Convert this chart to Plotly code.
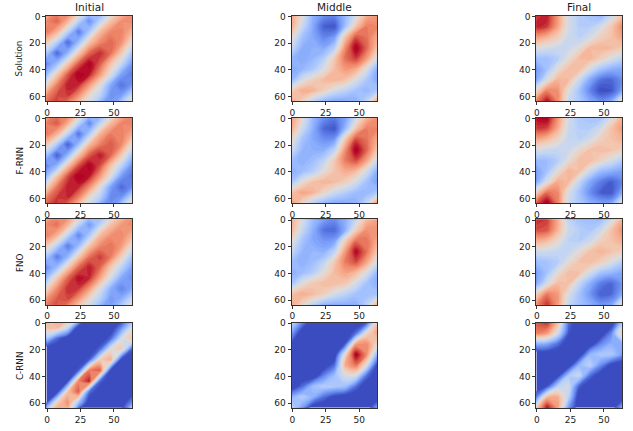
import plotly.graph_objects as go

grid_x = [-0.5, 7.5, 15.5, 23.5, 31.5, 39.5, 47.5, 55.5, 63.5]
grid_y = [-0.5, 7.5, 15.5, 23.5, 31.5, 39.5, 47.5, 55.5, 63.5]
grid_y_initial = [-4.5, 3.5, 11.5, 19.5, 27.5, 35.5, 43.5, 51.5, 59.5, 67.5]
columns = ["Initial", "Middle", "Final"]
rows = ["Solution", "F-RNN", "FNO", "C-RNN"]
x_ticks = [0, 25, 50]
y_ticks = [0, 20, 40, 60]

solution_initial = [
    [62, 74, 80, 62, 42, 26, 44, 62, 72],
    [76, 82, 66, 42, 22, 42, 62, 74, 76],
    [80, 66, 42, 18, 38, 64, 76, 77, 66],
    [60, 40, 14, 34, 62, 76, 82, 74, 52],
    [38, 14, 32, 60, 82, 90, 80, 60, 36],
    [20, 34, 60, 84, 96, 84, 62, 44, 24],
    [34, 60, 84, 97, 92, 72, 50, 26, 18],
    [56, 78, 92, 90, 72, 52, 28, 16, 24],
    [76, 86, 88, 74, 54, 42, 22, 26, 46],
    [84, 88, 72, 56, 44, 26, 26, 46, 68],
]
solution_middle = [
    [70, 52, 30, 22, 20, 32, 48, 68, 72],
    [68, 45, 28, 12, 10, 35, 62, 78, 76],
    [55, 35, 28, 20, 25, 62, 85, 80, 68],
    [45, 30, 30, 28, 40, 75, 97, 82, 62],
    [32, 28, 32, 40, 60, 80, 88, 72, 48],
    [28, 32, 38, 50, 64, 72, 68, 50, 30],
    [32, 48, 58, 64, 66, 62, 50, 38, 28],
    [58, 68, 66, 58, 48, 42, 36, 32, 38],
    [70, 58, 42, 32, 28, 28, 30, 42, 72],
]
solution_final = [
    [88, 92, 72, 48, 40, 36, 32, 46, 62],
    [92, 88, 70, 48, 40, 40, 48, 60, 75],
    [72, 66, 58, 46, 42, 48, 58, 62, 70],
    [52, 48, 46, 46, 52, 64, 66, 64, 60],
    [35, 35, 40, 52, 64, 66, 58, 50, 42],
    [25, 36, 52, 64, 64, 48, 36, 30, 28],
    [28, 50, 66, 64, 46, 28, 16, 14, 22],
    [56, 76, 74, 52, 36, 20, 8, 10, 26],
    [78, 94, 76, 46, 38, 28, 22, 28, 58],
]
frnn_initial = [
    [64, 76, 80, 62, 40, 24, 44, 64, 74],
    [78, 84, 68, 42, 20, 42, 64, 76, 78],
    [80, 66, 42, 16, 38, 66, 78, 78, 68],
    [60, 38, 12, 34, 64, 78, 84, 76, 52],
    [36, 12, 32, 62, 84, 92, 82, 60, 36],
    [20, 32, 62, 86, 96, 86, 62, 42, 22],
    [34, 62, 86, 97, 92, 72, 50, 24, 16],
    [58, 80, 92, 90, 74, 52, 26, 14, 22],
    [78, 88, 90, 76, 54, 40, 20, 24, 46],
    [86, 90, 74, 56, 42, 24, 24, 46, 68],
]
frnn_middle = [
    [72, 54, 32, 22, 18, 26, 46, 66, 74],
    [68, 46, 30, 14, 10, 32, 62, 78, 76],
    [56, 36, 28, 22, 24, 60, 86, 80, 68],
    [46, 32, 30, 30, 42, 74, 97, 82, 60],
    [34, 30, 34, 42, 60, 78, 86, 70, 46],
    [30, 34, 40, 52, 62, 68, 64, 48, 30],
    [36, 52, 62, 66, 64, 58, 48, 36, 26],
    [62, 70, 66, 56, 46, 40, 34, 32, 38],
    [74, 56, 40, 32, 28, 28, 30, 44, 76],
]
frnn_final = [
    [94, 96, 74, 48, 38, 36, 36, 50, 66],
    [88, 86, 68, 46, 40, 40, 48, 62, 72],
    [70, 64, 56, 44, 42, 48, 58, 62, 66],
    [50, 46, 44, 46, 54, 62, 64, 62, 58],
    [34, 34, 40, 52, 64, 64, 56, 48, 40],
    [26, 36, 52, 66, 62, 46, 34, 30, 26],
    [28, 50, 68, 64, 44, 28, 18, 12, 20],
    [60, 80, 76, 50, 36, 22, 12, 10, 28],
    [84, 98, 78, 46, 38, 30, 26, 28, 56],
]
fno_initial = [
    [64, 74, 78, 60, 42, 28, 44, 62, 72],
    [76, 80, 66, 42, 24, 42, 62, 72, 76],
    [78, 66, 42, 20, 38, 64, 74, 76, 66],
    [60, 40, 18, 34, 62, 76, 80, 72, 52],
    [38, 18, 32, 60, 80, 88, 78, 58, 36],
    [22, 34, 60, 82, 92, 82, 60, 42, 26],
    [34, 60, 82, 94, 90, 70, 48, 28, 22],
    [56, 76, 90, 88, 72, 50, 30, 20, 28],
    [74, 84, 86, 72, 54, 40, 24, 30, 46],
    [82, 86, 70, 54, 42, 28, 28, 46, 66],
]
fno_middle = [
    [68, 50, 34, 26, 22, 30, 44, 64, 70],
    [66, 44, 30, 16, 14, 30, 58, 74, 74],
    [54, 36, 28, 24, 26, 58, 80, 80, 68],
    [44, 32, 32, 30, 42, 72, 95, 80, 60],
    [34, 30, 34, 42, 60, 78, 86, 70, 48],
    [30, 34, 40, 52, 64, 70, 64, 50, 32],
    [36, 52, 60, 64, 64, 60, 48, 36, 30],
    [62, 68, 64, 58, 48, 42, 36, 34, 36],
    [70, 56, 42, 32, 30, 30, 30, 42, 70],
]
fno_final = [
    [90, 88, 68, 42, 36, 34, 34, 48, 66],
    [86, 84, 66, 46, 40, 38, 46, 62, 74],
    [68, 64, 54, 42, 40, 46, 58, 62, 68],
    [48, 46, 44, 44, 52, 62, 66, 62, 58],
    [34, 36, 40, 52, 62, 64, 58, 50, 40],
    [26, 36, 52, 64, 62, 48, 36, 32, 28],
    [28, 48, 64, 62, 44, 30, 18, 14, 24],
    [58, 78, 72, 50, 36, 24, 12, 14, 28],
    [76, 90, 72, 44, 36, 30, 24, 28, 58],
]
crnn_initial = [
    [62, 66, 66, 48, 4, 0, 0, 0, 25],
    [62, 64, 44, 0, 0, 0, 0, 22, 50],
    [38, 14, 0, 0, 0, 0, 14, 48, 62],
    [0, 0, 0, 0, 0, 14, 52, 60, 12],
    [0, 0, 0, 0, 12, 58, 68, 4, 0],
    [0, 0, 0, 12, 78, 84, 6, 0, 0],
    [0, 0, 8, 76, 92, 14, 0, 0, 0],
    [0, 4, 62, 84, 16, 0, 0, 0, 0],
    [8, 58, 74, 36, 0, 0, 0, 0, 22],
    [52, 76, 62, 0, 0, 0, 0, 14, 60],
]
crnn_middle = [
    [45, 20, 0, 0, 0, 0, 0, 10, 60],
    [25, 0, 0, 0, 0, 0, 15, 55, 70],
    [8, 0, 0, 0, 0, 10, 70, 75, 55],
    [0, 0, 0, 0, 0, 55, 97, 75, 30],
    [0, 0, 0, 0, 15, 68, 80, 50, 5],
    [0, 0, 0, 20, 35, 48, 48, 15, 0],
    [0, 15, 35, 40, 38, 35, 15, 0, 0],
    [30, 40, 30, 15, 5, 0, 0, 0, 0],
    [45, 25, 0, 0, 0, 0, 0, 0, 28],
]
crnn_final = [
    [85, 90, 65, 15, 0, 0, 0, 0, 35],
    [78, 72, 48, 10, 0, 0, 0, 20, 62],
    [30, 28, 15, 2, 0, 0, 20, 30, 28],
    [0, 0, 0, 0, 0, 32, 38, 38, 25],
    [0, 0, 0, 0, 32, 42, 22, 5, 0],
    [0, 0, 5, 38, 45, 15, 0, 0, 0],
    [0, 10, 42, 48, 12, 0, 0, 0, 0],
    [20, 65, 68, 42, 0, 0, 0, 0, 0],
    [60, 95, 72, 25, 0, 0, 0, 0, 30],
]
panels = [
    [solution_initial, solution_middle, solution_final],
    [frnn_initial, frnn_middle, frnn_final],
    [fno_initial, fno_middle, fno_final],
    [crnn_initial, crnn_middle, crnn_final],
]

coolwarm = [
    [0.0, "#3b4cc0"], [0.1, "#5977e3"], [0.2, "#7b9ff9"], [0.3, "#9ebeff"],
    [0.4, "#c0d4f5"], [0.5, "#dddcdc"], [0.6, "#f2cbb7"], [0.7, "#f7ac8e"],
    [0.8, "#ee8468"], [0.9, "#d65244"], [1.0, "#b40426"],
]

W, H = 633, 431
col_left = [44.5, 290.5, 536.0]
row_top = [12.0, 115.0, 217.5, 321.5]
size = 86.0
TEXT = "#1a1a1a"
FONT = "DejaVu Sans"
Z_LOW, Z_HIGH = 8, 94

fig = go.Figure()
n = 0
annotations = []
for r, row_name in enumerate(rows):
    for c, col_name in enumerate(columns):
        n += 1
        suffix = "" if n == 1 else str(n)
        fig.add_trace(go.Contour(
            x=grid_x, y=grid_y_initial if c == 0 else grid_y, z=panels[r][c],
            zmin=Z_LOW, zmax=Z_HIGH, colorscale=coolwarm, showscale=False,
            contours=dict(coloring="fill", start=Z_LOW, end=Z_HIGH, size=2, showlines=False),
            line=dict(width=0, smoothing=1.0),
            xaxis="x" + suffix, yaxis="y" + suffix, hoverinfo="skip",
        ))
        axis_style = dict(
            showgrid=False, zeroline=False, showline=True, mirror=True,
            linecolor="#333333", linewidth=1, ticks="outside", ticklen=3,
            tickwidth=1, tickcolor="#333333",
            tickfont=dict(family=FONT, size=9, color=TEXT),
        )
        fig.update_layout(**{
            "xaxis" + suffix: dict(
                domain=[col_left[c] / W, (col_left[c] + size) / W],
                range=[-0.5, 63.5], tickmode="array", tickvals=x_ticks,
                anchor="y" + suffix, **axis_style),
            "yaxis" + suffix: dict(
                domain=[1 - (row_top[r] + size) / H, 1 - row_top[r] / H],
                range=[63.5, -0.5], tickmode="array", tickvals=y_ticks,
                anchor="x" + suffix, **axis_style),
        })
    annotations.append(dict(
        text=row_name, x=18 / W, y=1 - (row_top[r] + size / 2) / H,
        xref="paper", yref="paper", showarrow=False, textangle=-90,
        font=dict(family=FONT, size=8.8, color=TEXT),
        xanchor="center", yanchor="middle"))
for c, col_name in enumerate(columns):
    annotations.append(dict(
        text=col_name, x=(col_left[c] + size / 2) / W, y=1 - 3 / H,
        xref="paper", yref="paper", showarrow=False,
        font=dict(family=FONT, size=10.5, color=TEXT),
        xanchor="center", yanchor="middle"))

fig.update_layout(
    width=W, height=H, margin=dict(l=0, r=0, t=0, b=0),
    paper_bgcolor="white", plot_bgcolor="white", annotations=annotations,
)
fig.write_html("out.html", config={"displayModeBar": False},
               post_script="document.body.style.margin='0';")
